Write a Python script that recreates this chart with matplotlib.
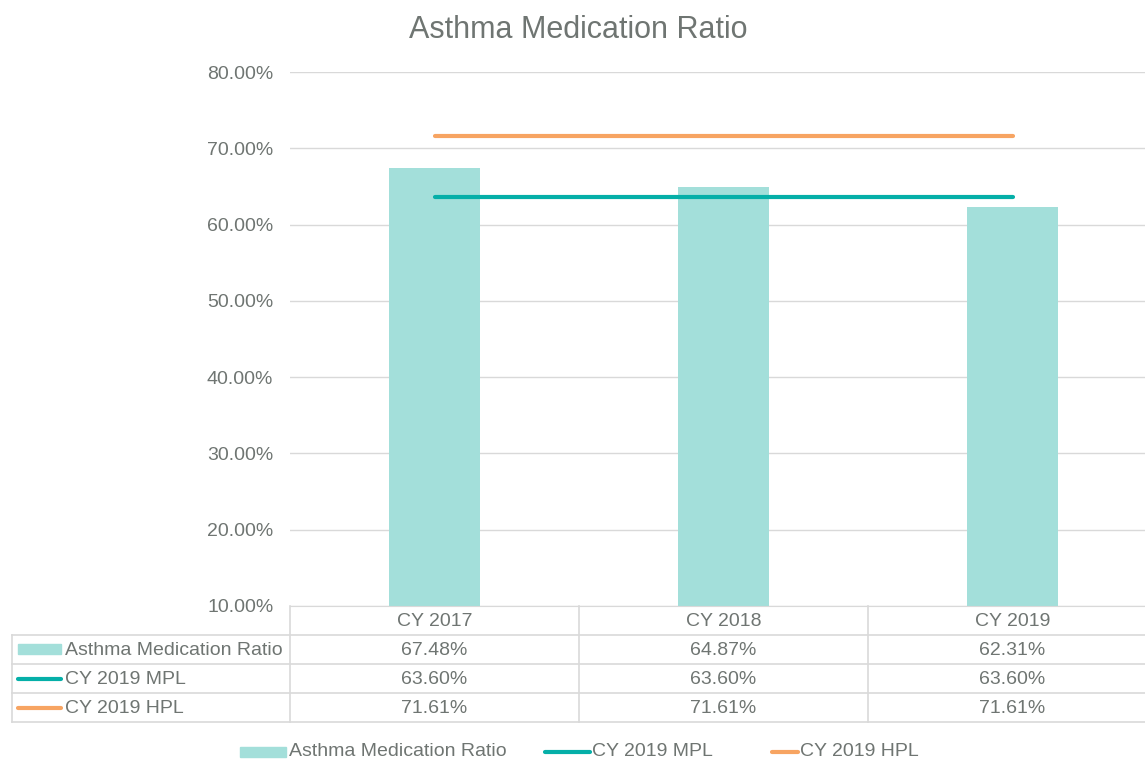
import matplotlib
matplotlib.use("Agg")
import matplotlib.pyplot as plt
from matplotlib import transforms
from matplotlib.lines import Line2D
from matplotlib.patches import Rectangle

plt.rcParams['font.family'] = ['Liberation Sans', 'DejaVu Sans']

categories = ["CY 2017", "CY 2018", "CY 2019"]
amr = [67.48, 64.87, 62.31]
mpl = [63.60, 63.60, 63.60]
hpl = [71.61, 71.61, 71.61]
series_names = ["Asthma Medication Ratio", "CY 2019 MPL", "CY 2019 HPL"]

BAR = "#A3DFDA"
MPL_C = "#05AFA8"
HPL_C = "#F7A462"
TXT = "#6F7572"
GRID = "#D9D9D9"

W, H = 1145, 760
fig = plt.figure(figsize=(W / 100, H / 100), dpi=100)


def fx(px):
    return px / W


def fy(py):
    return 1 - py / H


ax = fig.add_axes([fx(290), fy(606), 867 / W, (606 - 72) / H])
x = list(range(len(categories)))
ax.bar(x, amr, width=0.315, color=BAR, zorder=2)
ax.plot(x, mpl, color=MPL_C, lw=3, solid_capstyle='round', zorder=3)
ax.plot(x, hpl, color=HPL_C, lw=3, solid_capstyle='round', zorder=3)

ax.set_xlim(-0.5, 2.5)
ax.set_ylim(10, 80)
ax.set_yticks(range(10, 81, 10))
ax.set_yticklabels(["%.2f%%" % v for v in range(10, 81, 10)])
ax.tick_params(axis='y', length=0, pad=12, labelsize=14, labelcolor=TXT)
ax.set_xticks([])
ax.grid(axis='y', color=GRID, lw=1, zorder=0)
for s in ["top", "right", "left"]:
    ax.spines[s].set_visible(False)
ax.spines["bottom"].set_color(GRID)

fig.text(fx(578), fy(30), "Asthma Medication Ratio", ha='center', va='center',
         fontsize=22, color=TXT)

# data table under the axis
bt = transforms.blended_transform_factory(ax.transData, fig.transFigure)
row_y = [606, 635, 664, 693, 722]
for py in row_y[1:]:
    fig.add_artist(Line2D([fx(12), 1.0], [fy(py), fy(py)], color=GRID, lw=1.2))
for xb in [-0.5, 0.5, 1.5]:
    fig.add_artist(Line2D([xb, xb], [fy(606), fy(722)], color=GRID, lw=1.2,
                          transform=bt))
fig.add_artist(Line2D([fx(12), fx(12)], [fy(635), fy(722)], color=GRID, lw=1.2))

for i, c in enumerate(categories):
    fig.text(i, fy(621), c, transform=bt, ha='center', va='center',
             fontsize=14, color=TXT)

rows = [amr, mpl, hpl]
for r, vals in enumerate(rows):
    yc = fy((row_y[r + 1] + row_y[r + 2]) / 2 + 1)
    for i, v in enumerate(vals):
        fig.text(i, yc, "%.2f%%" % v, transform=bt, ha='center', va='center',
                 fontsize=14, color=TXT)
    fig.text(fx(65), yc, series_names[r], ha='left', va='center',
             fontsize=14, color=TXT)

# keys in table
fig.add_artist(Rectangle((fx(18), fy(654)), 43 / W, 10 / H, color=BAR))
fig.add_artist(Line2D([fx(18), fx(61)], [fy(679), fy(679)], color=MPL_C, lw=3,
                      solid_capstyle='round'))
fig.add_artist(Line2D([fx(18), fx(61)], [fy(708), fy(708)], color=HPL_C, lw=3,
                      solid_capstyle='round'))

# bottom legend
ly = 752
fig.add_artist(Rectangle((fx(240), fy(ly + 5)), 46 / W, 10 / H, color=BAR))
fig.text(fx(289), fy(ly), series_names[0], ha='left', va='center', fontsize=14, color=TXT)
fig.add_artist(Line2D([fx(545), fx(590)], [fy(ly), fy(ly)], color=MPL_C, lw=3,
                      solid_capstyle='round'))
fig.text(fx(592), fy(ly), series_names[1], ha='left', va='center', fontsize=14, color=TXT)
fig.add_artist(Line2D([fx(772), fx(798)], [fy(ly), fy(ly)], color=HPL_C, lw=3,
                      solid_capstyle='round'))
fig.text(fx(800), fy(ly), series_names[2], ha='left', va='center', fontsize=14, color=TXT)

fig.savefig("out.png", dpi=100)
